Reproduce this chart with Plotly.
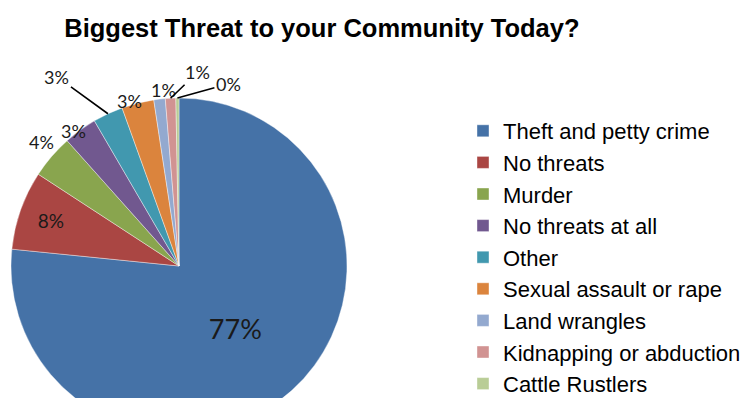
import math
import plotly.graph_objects as go

title = "Biggest Threat to your Community Today?"
categories = ["Theft and petty crime", "No threats", "Murder", "No threats at all",
              "Other", "Sexual assault or rape", "Land wrangles",
              "Kidnapping or abduction", "Cattle Rustlers"]
values = [76.6, 7.6, 4.2, 3.2, 2.9, 3.1, 1.1, 1.0, 0.3]
colors = ["#4572A7", "#AA4643", "#89A54E", "#71588F", "#4198AF",
          "#DB843D", "#93A9CF", "#D19392", "#B9CD96"]

# label placement (style): which slices get inside labels, offsets for outside labels
inside = [True, True, False, False, False, False, False, False, False]
label_offsets = [None, None, (-25, -14), (-21, -12), (-51, -37), (-23, -15),
                 (-11, -22), (27, -26), (51, -14)]
leader = [False, False, False, False, True, False, False, True, True]

W, H = 740, 440
cx, cy, R = 179, 266, 168
label_font = dict(family="Lato, sans-serif", size=18, color="#1a1a1a")

fig = go.Figure(go.Pie(
    labels=categories, values=values, sort=False, direction="clockwise",
    rotation=0,
    marker=dict(colors=colors, line=dict(color="white", width=0.4)),
    texttemplate="%{percent:.0%}",
    textposition=["inside" if f else "none" for f in inside],
    textfont=dict(family="Lato, sans-serif", size=[27, 19] + [18] * 7, color="#1a1a1a"),
    domain=dict(x=[(cx - R) / W, (cx + R) / W], y=[(H - cy - R) / H, (H - cy + R) / H]),
    hoverinfo="label+percent",
))

# outside labels computed from the slice geometry
total = sum(values)
cum = 0.0
for i, v in enumerate(values):
    mid = (cum + v / 2) / total * 2 * math.pi
    cum += v
    if inside[i]:
        continue
    px = cx + R * math.sin(mid)
    py = cy - R * math.cos(mid)
    dx, dy = label_offsets[i]
    txt = f"{round(v / total * 100)}%"
    ann = dict(x=px / W, y=(H - py) / H, xref="paper", yref="paper",
               text=txt, font=label_font)
    if leader[i]:
        ann.update(showarrow=True, arrowhead=0, arrowwidth=1.6, arrowcolor="black",
                   ax=dx, ay=dy, standoff=0)
    else:
        ann.update(showarrow=False, xshift=dx, yshift=-dy)
    fig.add_annotation(**ann)

fig.update_layout(
    width=W, height=H,
    margin=dict(l=0, r=0, t=0, b=0, autoexpand=False),
    paper_bgcolor="white", plot_bgcolor="white",
    title=dict(text="<b>" + title + "</b>", x=0.435, xanchor="center",
               y=1 - 28 / H, yanchor="middle", yref="container",
               font=dict(family="Liberation Sans, Arial, sans-serif", size=25.5, color="black")),
    legend=dict(x=463 / W, xanchor="left", y=1 - 110 / H, yanchor="top",
                font=dict(family="Liberation Sans, Arial, sans-serif", size=22, color="black"),
                itemwidth=30, tracegroupgap=0, bgcolor="rgba(0,0,0,0)"),
    showlegend=True,
)

fig.write_html("out.html", post_script=(
    "document.body.style.margin='0';"
    "document.body.style.overflow='hidden';"
    "document.documentElement.style.overflow='hidden';"
))
